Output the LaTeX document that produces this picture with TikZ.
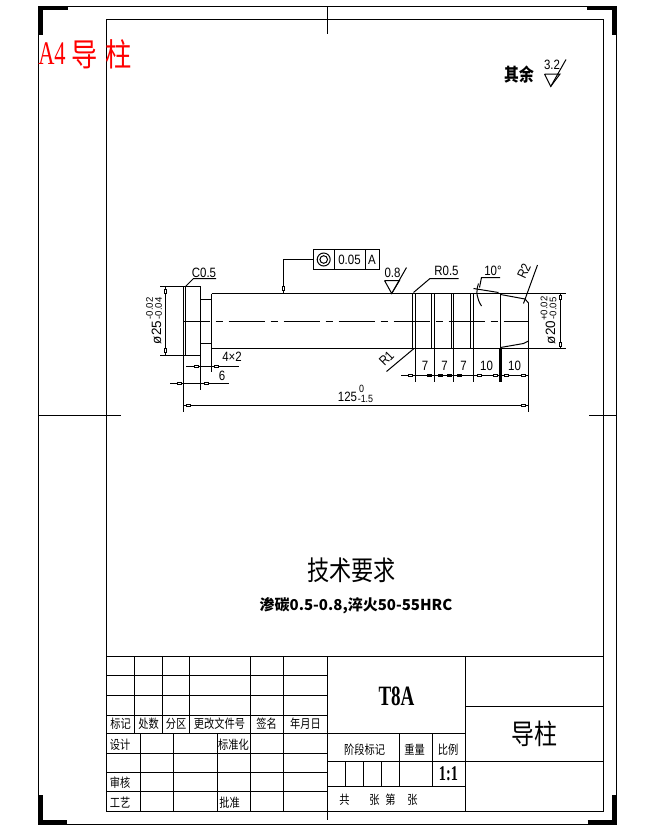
\documentclass[tikz,border=0pt]{standalone}
\usepackage{fontspec}
\usetikzlibrary{positioning}
\newfontfamily\shxfont[FakeStretch=0.85]{Liberation Sans}
\newfontfamily\rotfont{Liberation Sans}
\newfontfamily\serfont[FakeStretch=0.68]{Liberation Serif}
\newfontfamily\cjkfont[FakeStretch=0.82]{Noto Sans CJK SC}
\newfontfamily\notefont{Noto Sans CJK SC}
\definecolor{titlered}{RGB}{255,0,0}
\tikzset{
    pin/.style={line width=1pt, line cap=butt},
    thickmark/.style={line width=4.5pt},
    dimtext/.style={inner sep=0, font=\shxfont\fontsize{13.5}{13.5}\selectfont},
    tinytext/.style={inner sep=0, font=\shxfont\fontsize{10.5}{10.5}\selectfont},
    rotmain/.style={inner sep=0, rotate=90, font=\rotfont\fontsize{13.5}{13.5}\selectfont},
    rottiny/.style={inner sep=0, rotate=90, font=\rotfont\fontsize{9.6}{9.6}\selectfont},
    celltext/.style={inner sep=0, font=\cjkfont\fontsize{12.5}{13}\selectfont},
    boxh/.style={draw, line width=0.8pt, fill=white, inner sep=0, minimum width=4pt, minimum height=2.5pt},
    boxv/.style={draw, line width=0.8pt, fill=white, inner sep=0, minimum width=2.5pt, minimum height=4pt},
    boxf/.style={boxh, fill=black}
}

\begin{document}
\begin{tikzpicture}[x=1pt, y=-1pt, pin]
            \useasboundingbox (0, 0) rectangle (654, 830);
            % frames and marks
            \draw (38.5, 6) rectangle (616.5, 824);
            \draw (106.5, 19.5) rectangle (603.5, 811);
            \draw (327.5, 6) -- (327.5, 34);
            \draw (327.5, 811) -- (327.5, 820);
            \draw (38.5, 415) -- (120.5, 415);
            \draw (589, 415) -- (616.5, 415);
            \draw[thickmark] (40.5, 35) -- (40.5, 8.2) -- (68, 8.2);
            \draw[thickmark] (587, 8.2) -- (614.5, 8.2) -- (614.5, 35);
            \draw[thickmark] (40.5, 795) -- (40.5, 822) -- (67, 822);
            \draw[thickmark] (587.5, 822) -- (614.5, 822) -- (614.5, 795);
            \node[inner sep=0, text=titlered, font=\serfont\fontsize{33}{33}\selectfont] (sheet) at (52, 54) {A4};
            \node[inner sep=0, text=titlered, font=\cjkfont\fontsize{32}{32}\selectfont, right=5pt of sheet] (sheetname) {导\hspace{8pt}柱};
            % general roughness
            \node[inner sep=0, font=\cjkfont\bfseries\fontsize{18}{18}\selectfont] (rest) at (519.5, 75) {其余};
            \node[dimtext] (restval) at (552, 65) {3.2};
            \draw (544.5, 74) -- (560, 74) -- (550.7, 86.5) -- (544.5, 74);
            \draw (550.7, 86.5) -- (566, 59.5);
            % guide pillar
            \draw (183.5, 286.5) rectangle (200.5, 355.5);
            \draw (185.5, 286.5) -- (185.5, 355.5);
            \draw (200.5, 299.5) -- (211.5, 299.5);
            \draw (200.5, 343.5) -- (211.5, 343.5);
            \draw (211.5, 293.5) -- (211.5, 371.5);
            \draw (211.5, 293.5) -- (566, 293.5);
            \draw (211.5, 348.5) -- (566, 348.5);
            \draw (412.5, 293.5) -- (412.5, 348.5);
            \draw (415, 293.5) -- (415, 381.5);
            \draw (431.5, 293.5) -- (431.5, 348.5);
            \draw (434.5, 293.5) -- (434.5, 381.5);
            \draw (451.5, 293.5) -- (451.5, 348.5);
            \draw (453.5, 293.5) -- (453.5, 381.5);
            \draw (470.5, 293.5) -- (470.5, 348.5);
            \draw (473.5, 293.5) -- (473.5, 381.5);
            \draw (500.5, 293.5) -- (500.5, 348.5);
            \draw[line width=2.5pt] (500.5, 348.5) -- (500.5, 381.5);
            \draw (528.5, 303) -- (528.5, 411.5);
            \draw (500.5, 294.5) -- (525, 299) -- (528.5, 303);
            \draw (500.5, 347.5) -- (523.5, 343.5) -- (528.5, 341);
            \draw[dash pattern=on 36pt off 6pt on 7pt off 6pt, dash phase=10pt] (183.5, 321) -- (528, 321);
            % head dimension
            \draw (160, 286.5) -- (183.5, 286.5);
            \draw (160, 355.5) -- (183.5, 355.5);
            \draw (165.5, 286.5) -- (165.5, 355.5);
            \node[boxv] (d25a) at (165.5, 291) {};
            \node[boxv] (d25b) at (165.5, 350) {};
            \node[rotmain] (d25) at (156.5, 332.5) {ø25};
            \node[rottiny] (d25up) at (149.5, 308.5) {-0.02};
            \node[rottiny] (d25lo) at (158.5, 308.5) {-0.04};
            \draw (185.5, 286.5) -- (193.5, 278.5) -- (216, 278.5);
            \node[dimtext] (chamfer) at (204, 272.5) {C0.5};
            % tolerance frame
            \draw (283.5, 293.5) -- (283.5, 259.5) -- (313.5, 259.5);
            \node[boxv] (tolbox) at (283.5, 288.5) {};
            \draw (313.5, 249.5) rectangle (379.5, 269.5);
            \draw (334, 249.5) -- (334, 269.5);
            \draw (365, 249.5) -- (365, 269.5);
            \draw (323.7, 259.5) circle[radius=6.5pt];
            \draw (323.7, 259.5) circle[radius=3.8pt];
            \node[dimtext] (tolval) at (349.5, 259.5) {0.05};
            \node[dimtext] (tolref) at (372, 259.5) {A};
            % roughness 0.8
            \draw (384.5, 280.5) -- (399.5, 280.5) -- (391.7, 293.5) -- (384.5, 280.5);
            \draw (391.7, 293.5) -- (406.5, 267.5);
            \node[dimtext] (rough) at (392.5, 272.5) {0.8};
            % radii
            \draw (413.5, 292.5) -- (430, 278.5) -- (458.5, 278.5);
            \node[dimtext] (rhalf) at (446.5, 270.5) {R0.5};
            \draw (414, 348.5) -- (386.5, 371.5);
            \node[dimtext, rotate=45] (rone) at (386.5, 358.5) {R1};
            \draw (537.5, 265) -- (523.5, 303.5);
            \node[dimtext, rotate=65] (rtwo) at (524, 271) {R2};
            % taper angle
            \draw (473.5, 288.5) -- (498.5, 292.5);
            \draw (478.5, 283.5) .. controls (475.5, 292) and (477, 299) .. (481.5, 306);
            \draw (479.5, 287.5) -- (481.5, 277.5) -- (500, 277.5);
            \node[dimtext] (angle) at (493, 270.5) {10°};
            % bottom dimensions
            \draw (186, 366.5) -- (239, 366.5);
            \node[boxh] (w4a) at (196, 366.5) {};
            \node[boxh] (w4b) at (216.5, 366.5) {};
            \node[dimtext] (w4) at (232, 357) {4×2};
            \draw (200.5, 355.5) -- (200.5, 389.5);
            \draw (170, 383.5) -- (229, 383.5);
            \node[boxh] (w6a) at (179, 383.5) {};
            \node[boxh] (w6b) at (206, 383.5) {};
            \node[dimtext] (w6) at (222, 375.5) {6};
            \draw (183.5, 355.5) -- (183.5, 411.5);
            \draw (183.5, 405.5) -- (528.5, 405.5);
            \node[boxh] (lena) at (188.5, 405.5) {};
            \node[boxh] (lenb) at (523.5, 405.5) {};
            \node[dimtext] (len) at (347.5, 396.5) {125};
            \node[tinytext] (lenup) at (361.5, 388.5) {0};
            \node[tinytext] (lenlo) at (365.5, 399) {-1.5};
            \draw (401, 375.5) -- (528.5, 375.5);
            \node[boxh] (ga) at (410, 375.5) {};
            \node[boxf] (gb) at (429, 375.5) {};
            \node[boxf] (gc) at (440, 375.5) {};
            \node[boxf] (gd) at (449, 375.5) {};
            \node[boxf] (ge) at (459, 375.5) {};
            \node[boxh] (gf) at (479, 375.5) {};
            \node[boxh] (gg) at (495, 375.5) {};
            \node[boxh] (gh) at (506.5, 375.5) {};
            \node[boxh] (gi) at (523.5, 375.5) {};
            \node[dimtext] (sa) at (425, 366) {7};
            \node[dimtext] (sb) at (444.5, 366) {7};
            \node[dimtext] (sc) at (463.5, 366) {7};
            \node[dimtext] (sd) at (486.5, 366) {10};
            \node[dimtext] (se) at (514.5, 366) {10};
            % tip dimension
            \draw (560.5, 293.5) -- (560.5, 348.5);
            \node[boxv] (d20a) at (560.5, 297) {};
            \node[boxv] (d20b) at (560.5, 344) {};
            \node[rotmain] (d20) at (550.5, 332.5) {ø20};
            \node[rottiny] (d20up) at (544, 308.5) {+0.02};
            \node[rottiny] (d20lo) at (553, 308.5) {-0.05};
            % notes
            \node[inner sep=0, font=\cjkfont\fontsize{27}{27}\selectfont] (notes) at (351.5, 570) {技术要求};
            \node[inner sep=0, font=\notefont\bfseries\fontsize{15}{16}\selectfont] (note) at (356, 606) {渗碳0.5-0.8,淬火50-55HRC};
            % title block
            \draw (106.5, 656) -- (603.5, 656);
            \draw (106.5, 675.5) -- (327.5, 675.5);
            \draw (106.5, 695.5) -- (327.5, 695.5);
            \draw (106.5, 715) -- (327.5, 715);
            \draw (106.5, 733.5) -- (465.5, 733.5);
            \draw (106.5, 753) -- (327.5, 753);
            \draw (106.5, 772) -- (327.5, 772);
            \draw (106.5, 791.5) -- (327.5, 791.5);
            \draw (327.5, 761.5) -- (603.5, 761.5);
            \draw (327.5, 786.5) -- (465.5, 786.5);
            \draw (465.5, 706.5) -- (603.5, 706.5);
            \draw (134.5, 656) -- (134.5, 733.5);
            \draw (162.5, 656) -- (162.5, 733.5);
            \draw (189.5, 656) -- (189.5, 733.5);
            \draw (250.5, 656) -- (250.5, 811);
            \draw (283.5, 656) -- (283.5, 811);
            \draw (140.5, 733.5) -- (140.5, 811);
            \draw (173.5, 733.5) -- (173.5, 811);
            \draw (217.5, 733.5) -- (217.5, 811);
            \draw (327.5, 656) -- (327.5, 811);
            \draw (465.5, 656) -- (465.5, 811);
            \draw (399.5, 733.5) -- (399.5, 786.5);
            \draw (432.5, 733.5) -- (432.5, 786.5);
            \draw (345.5, 761.5) -- (345.5, 786.5);
            \draw (363.5, 761.5) -- (363.5, 786.5);
            \draw (381.5, 761.5) -- (381.5, 786.5);
            \node[celltext] (ca) at (120.5, 724) {标记};
            \node[celltext] (cb) at (148.5, 724) {处数};
            \node[celltext] (cc) at (176, 724) {分区};
            \node[celltext] (cd) at (219.5, 724) {更改文件号};
            \node[celltext] (ce) at (266.5, 724) {签名};
            \node[celltext] (cf) at (305.5, 724) {年月日};
            \node[celltext] (cg) at (120, 744.5) {设计};
            \node[celltext] (ch) at (233.5, 744.5) {标准化};
            \node[celltext] (ci) at (120, 782.5) {审核};
            \node[celltext] (cj) at (120, 802.5) {工艺};
            \node[celltext] (ck) at (229.5, 802.5) {批准};
            \node[celltext] (cl) at (364.5, 749.5) {阶段标记};
            \node[celltext] (cm) at (414.5, 749.5) {重量};
            \node[celltext] (cn) at (448, 749.5) {比例};
            \node[celltext] (co) at (344.5, 800) {共};
            \node[celltext] (cp) at (374.5, 800) {张};
            \node[celltext] (cq) at (390.5, 800) {第};
            \node[celltext] (cr) at (412.5, 800) {张};
            \node[inner sep=0, font=\serfont\bfseries\fontsize{21}{21}\selectfont] (scale) at (448.5, 773.5) {1:1};
            \node[inner sep=0, font=\serfont\bfseries\fontsize{28}{28}\selectfont] (stock) at (396.5, 696) {T8A};
            \node[inner sep=0, font=\cjkfont\fontsize{28}{28}\selectfont] (part) at (534.5, 733.5) {导柱};
        \end{tikzpicture}
\end{document}
